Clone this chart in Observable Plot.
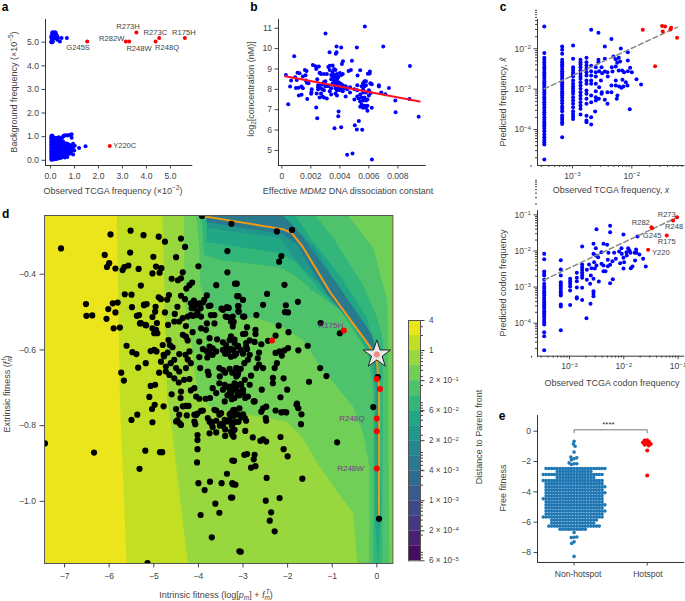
<!DOCTYPE html>
<html><head><meta charset="utf-8">
<script src="https://cdn.jsdelivr.net/npm/d3@7"></script>
<script src="https://cdn.jsdelivr.net/npm/@observablehq/plot@0.6"></script>
<style>
html,body{margin:0;padding:0;background:#fff}
#chart{position:relative;width:685px;height:601px;overflow:hidden;font-family:"Liberation Sans",Arial,sans-serif;color:#444}
#chart svg{position:absolute;overflow:visible}
.lab{position:absolute;white-space:nowrap;font-size:9px;line-height:1;transform:translate(-50%,-50%);color:#444}
.lab.rot{transform:translate(-50%,-50%) rotate(-90deg)}
.lab sup,.lab sub{font-size:6.5px;line-height:0}
.pl{position:absolute;font-weight:bold;font-size:12px;line-height:1;color:#000;transform:translate(-50%,-50%)}
</style></head><body><div id="chart"></div>
<script>
// ---------- shared ----------
const BLUE="#0000ff", RED="#ff0000", INK="#333", MUT="#777";
const bandColor=i=>d3.interpolateViridis((i+.5)/16);
// ---------- panel a ----------
const aHot=[[1.53,5.03],[3.14,5.03],[3.28,5.03],[3.58,5.41],[4.38,5.03],[4.53,5.18],[5.6,5.18],[2.47,.61]];
const aNames=["G245S","Y220C","R273H","R282W","R273C","R175H","R248W","R248Q"];
const aNameX=[1.15,2.61,3.23,2.55,4.37,5.56,3.69,4.86];
const aNameY=[4.76,.61,5.66,5.17,5.41,5.41,4.74,4.77];
const aTopX=[.035,.07,.1,.14,.17,.21,.24,.28,.31,.39,.46,.68];
const aTopY=[[5,5.03,5.18,5.25],[5,5.1,5.25,5.32,5.41],[5.03,5.18,5.32,5.41],[5.18,5.25,5.32,5.41],[5.18,5.32,5.41],[5.18,5.25,5.32,5.41],[5.25,5.32],[5.1,5.25],[5.18],[5.03],[5.18],[5.18]];
const aLowX=[.035,.07,.1,.14,.17,.21,.24,.28,.31,.35,.38,.42,.45,.49,.52,.56,.6,.63,.67,.7,.74,.78,.85,.88,.94,1.01,.99,1.19,1.46];
const aLowY=[[.02,.08,.14,.2,.27,.33,.38,.44,.5,.56,.62,.68,.74,.8,.86,.92,.98,1.03],[.05,.12,.18,.25,.3,.36,.42,.48,.55,.6,.66,.72,.78,.85,.9,.95,1.05],[.03,.1,.16,.22,.3,.38,.45,.52,.58,.65,.73,.8,.88,.95,1],[.06,.15,.24,.32,.4,.48,.56,.64,.72,.8,.9],[.04,.12,.2,.3,.36,.46,.55,.66,.75,.85,.95],[.1,.18,.28,.38,.5,.6,.7,.82],[.05,.16,.3,.42,.52,.68,.78,.9],[.12,.22,.34,.48,.62,.72,.95],[.08,.3,.4,.56,.66,.84,.93],[.2,.44,.58,.7,.8,.98],[.12,.28,.5,.62,.92],[.1,.34,.46,.6,.76],[.2,.3,.52,.65,.85],[.14,.42,.7,.96],[.26,.5,.62,.8,1],[.18,.34,.56,.66,1.05],[.12,.42,.6,.72],[.32,.5,.66,1.06],[.22,.62,.7],[.14,.42,.55,.7,1.05],[.34,.5,.62],[.28,.44,.66,1.07],[.3,.62],[.4,.5,.95,1.1],[.24,.55,.7],[.62],[.41],[.52],[.59]];
// ---------- panel b ----------
const bPts=[[.00572,11.09],[.00301,10.74],[.00377,10.11],[.00409,10.05],[.00699,10.11],[.00517,10.05],[.00329,9.82],[.00372,9.75],[.00377,9.82],[.00085,9.62],[.00483,9.41],[.00421,9.38],[.00414,9.25],[.00883,9.15],[.00214,9.2],[.00232,9.13],[.00255,9.12],[.00476,8.95],[.0046,8.9],[.0054,8.94],[.00237,9],[.00159,8.95],[.0017,8.9],[.00607,8.87],[.00593,8.76],[.00605,8.78],[.00522,8.68],[.00108,8.82],[.00122,8.79],[.00028,8.71],[.00092,8.59],[.00145,8.63],[.00163,8.69],[.00262,8.81],[.00184,8.3],[.00244,8.5],[.00064,8.43],[.00103,8.46],[.00166,8.43],[.00172,8.32],[.00057,8.14],[.00097,8.06],[.00115,8.08],[.00136,8.14],[.00145,8.05],[.00206,8],[.00204,7.87],[.00202,7.78],[.00117,7.7],[.00136,7.73],[.00175,7.53],[.00044,7.27],[.00237,7.11],[.00244,6.58],[.00391,6.91],[.00389,6.68],[.00363,6.09],[.00409,6.14],[.00531,6.45],[.00503,6.24],[.00517,6.03],[.00554,6.01],[.0045,4.79],[.00487,4.85],[.00621,4.56],[.00943,6.65],[.00784,6.88],[.00782,7.45],[.0088,7.52],[.00738,8.06],[.00713,7.76],[.00685,7.84],[.00669,8.2],[.00669,8.14],[.00614,8.27],[.00612,7.82],
[.0031,8.75],[.0032,9.1],[.0033,9.16],[.0033,8.95],[.0034,8.7],[.0034,8.5],[.0035,9.17],[.0035,8.85],[.0035,8.6],[.0035,8.3],[.0036,9],[.0036,8.7],[.0036,8.45],[.0036,8.2],[.0037,8.95],[.0037,8.6],[.0037,8.35],[.0037,8.05],[.0037,7.8],[.0038,8.75],[.0038,8.5],[.0038,8.25],[.0038,7.95],[.0038,7.7],[.0039,8.6],[.0039,8.35],[.0039,8.1],[.004,8.8],[.004,8.3],[.004,7.95],[.0041,8.7],[.0041,8.25],[.0041,8.05],[.0042,8.75],[.0042,8.2],[.0042,7.9],[.0043,8.05],[.0044,8.15],[.0044,7.65],[.0045,8],[.0047,8.1],[.0047,7.85],[.003,8.4],[.003,8.15],[.0029,8.75],[.0029,8.35],[.0029,7.95],[.0029,7.6],[.0028,8.25],[.0028,8],[.0028,7.65],[.0027,8.75],[.0027,8.05],[.0027,7.8],[.0026,8.8],[.0026,8.2],[.0026,7.6],[.0025,8.2],[.0025,8.1],[.0025,8],[.0024,7.8],[.0031,7.55],[.0032,8.15],[.0033,7.9],[.0034,8.05],[.0034,7.75],
[.005,7.5],[.005,8],[.0052,8.2],[.0052,7.65],[.0053,7.55],[.0054,7.75],[.0054,7.4],[.0054,7.15],[.0055,7.6],[.0055,7.25],[.0056,8.3],[.0056,8],[.0056,7.85],[.0056,7.45],[.0056,7.1],[.0057,8.4],[.0057,8.15],[.0057,7.6],[.0057,7.2],[.0058,8.4],[.0058,7.85],[.0058,7.45],[.0058,7.1],[.0059,7.5],[.0059,7.2],[.0059,6.95],[.006,7.95],[.006,7.7],[.0061,8.3],[.0062,8.25],[.0062,7.1],[.0052,7.95],[.0058,8.2],[.0055,8.15]];
const bFit=[[.00023,8.64],[.0095,7.4]];
// ---------- panel c (values are log10 of the frequencies) ----------
const cX=[-3.475,-3.174,-2.99,-2.865,-2.764,-2.685];
const cY=[[-1.446,-2.107,-2.223,-2.273,-2.331,-2.397,-2.455,-2.512,-2.579,-2.636,-2.686,-2.744,-2.802,-2.851,-2.909,-2.967,-3.017,-3.074,-3.132,-3.198,-3.256,-3.322,-3.38,-3.446,-3.512,-3.57,-3.628,-3.694,-3.76,-3.818,-3.876,-3.926,-3.983,-4.041,-4.124,-4.19,-4.256,-4.314,-4.372,-4.744],
[-1.942,-2.025,-2.124,-2.273,-2.331,-2.388,-2.43,-2.496,-2.554,-2.603,-2.661,-2.719,-2.769,-2.826,-2.884,-2.934,-2.992,-3.05,-3.099,-3.157,-3.215,-3.281,-3.347,-3.43,-3.488,-3.545,-3.653,-3.711,-3.76,-3.818,-3.86,-4.19],
[-1.917,-2.248,-2.455,-2.521,-2.579,-2.636,-2.686,-2.785,-2.868,-2.934,-2.992,-3.05,-3.116,-3.198,-3.281,-3.364,-3.446,-3.545,-3.612,-3.678,-3.736],
[-2.273,-2.331,-2.388,-2.455,-2.537,-2.62,-2.686,-2.744,-2.826,-2.909,-2.992,-3.074,-3.157,-3.24,-3.322,-3.405,-3.488,-3.628],
[-2.223,-2.331,-2.413,-2.496,-2.579,-2.661,-2.785,-2.868,-3.033,-3.116,-3.24,-3.364,-3.661,-3.777,-3.818],
[-1.529,-2.422,-2.554,-2.661,-2.785,-2.868,-3.157,-3.322,-3.694,-3.876]];
const cScatter=[[-2.562,-1.603],[-2.343,-1.76],[-2.455,-1.942],[-2.185,-1.992],[-2.309,-2.19],[-2.455,-2.248],[-2.562,-2.273],[-2.22,-2.22],[-2.27,-2.26],[-2.247,-2.347],[-2.337,-2.455],[-2.27,-2.438],[-2.197,-2.314],[-2.067,-2.083],[-2.067,-2.29],[-2.028,-2.47],[-2,-2.58],[-2.067,-2.554],[-2.163,-2.537],[-2.13,-2.579],[-2.22,-2.537],[-2.326,-2.562],[-2.41,-2.579],[-2.455,-2.562],[-2.5,-2.603],[-2.55,-2.554],[-2.607,-2.579],[-2.607,-2.686],[-2.52,-2.785],[-2.405,-2.686],[-2.27,-2.785],[-2.343,-2.909],[-2.27,-2.909],[-2.213,-2.934],[-2.157,-2.769],[-2.14,-2.934],[-2.1,-2.826],[-2.073,-2.909],[-2.174,-2.967],[-1.921,-2.752],[-1.843,-2.884],[-2.034,-3.496],[-2.242,-3.157],[-2.253,-3.24],[-2.343,-3.074],[-2.41,-3.364],[-2.455,-3.264],[-2.51,-3.116],[-2.607,-3.05],[-2.556,-3.24],[-2.607,-3.281],[-2.618,-3.554],[-2.55,-2.95],[-2.607,-3.2],[-2.41,-3.074],[-2.506,-3.074],[-2.607,-2.868],[-2.607,-2.455],[-2.562,-2.331],[-2.51,-2.455]];
const cHot=[[-1.815,-1.529],[-1.489,-1.438],[-1.438,-1.446],[-1.478,-1.57],[-1.337,-1.479],[-1.348,-1.521],[-1.236,-1.727],[-1.607,-2.43]];
const cFit=[[-3.478,-2.992],[-1.23,-1.463]];
// ---------- panel c, lower (log10) ----------
const c2X=[-3.466,-3.16,-2.988,-2.865,-2.767];
const c2Y=[[-2.08,-2.228,-2.57,-2.634,-2.68,-2.8,-2.911,-2.985,-3.05,-3.114,-3.17,-3.234,-3.3,-3.355,-3.42,-3.484,-3.54,-3.6,-3.668,-3.724,-3.79,-3.853,-3.91,-3.973,-4.04,-4.25,-4.36,-4.75],
[-2.256,-2.514,-2.68,-2.865,-2.93,-2.985,-3.05,-3.114,-3.17,-3.234,-3.484,-3.54,-4.195],
[-2.773,-2.837,-2.911,-2.985,-3.096,-3.5],
[-2.607,-2.745,-2.837,-3.013,-3.28,-3.317],
[-1.877,-2.376,-2.45,-2.523,-2.6,-2.67,-2.745,-3.02,-3.355]];
const c2Scatter=[[-2.68,-2.523],[-2.68,-2.8],[-2.64,-2.376],[-2.607,-2.68],[-2.62,-2.911],[-2.613,-3.465],[-2.687,-3.862],[-2.503,-1.397],[-2.558,-1.803],[-2.515,-1.923],[-2.558,-3.114],[-2.558,-3.188],[-2.558,-3.253],[-2.558,-2.773],[-2.46,-2.847],[-2.558,-2.08],[-2.515,-2.126],[-2.472,-2.173],[-2.546,-2.311],[-2.503,-2.404],[-2.595,-2.477],[-2.534,-2.487],[-2.411,-2.034],[-2.374,-1.803],[-2.307,-1.831],[-2.282,-2.053],[-2.252,-1.305],[-2.252,-1.48],[-2.411,-2.357],[-2.374,-2.404],[-2.374,-2.56],[-2.337,-2.56],[-2.294,-2.422],[-2.252,-2.385],[-2.252,-2.893],[-2.202,-2.782],[-2.294,-2.247],[-2.178,-2.053],[-2.209,-2.283],[-2.147,-2.219],[-2.086,-2.016],[-2.037,-2.08],[-2.043,-1.923],[-2.067,-2.339],[-2.006,-1.545],[-2.006,-2.191],[-1.994,-2.311],[-2.006,-2.487],[-1.95,-2.034],[-1.92,-1.923],[-1.896,-1.988],[-1.877,-2.053],[-1.945,-2.126],[-1.871,-2.477],[-1.84,-2.431],[-1.8,-2.053],[-1.773,-1.96],[-1.792,-2.265],[-1.767,-2.053],[-1.748,-1.6],[-1.712,-2.1],[-1.644,-2.219],[-1.595,-2.431]];
const c2Hot=[[-1.552,-1.97],[-1.209,-1.572],[-1.491,-1.342],[-1.479,-1.37],[-1.092,-1.157],[-1.018,-1.065]];
const c2Names=["R273","R282","R248","G245","R175","Y220"];
const c2NameX=[-1.209,-1.687,-1.074,-1.479,-1.209,-1.319];
const c2NameY=[-1,-1.222,-1.314,-1.563,-1.748,-2.053];
const c2Fit=[[-3.466,-2.8],[-1.012,-1.065]];
// ---------- panel d ----------
const dPts=[[-7.08,-.332],[-5.97,-.295],[-5.52,-.285],[-5.23,-.297],[-4.89,-.301],[-4.75,-.314],[-4.39,-.306],[-4.3,-.328],[-6.1,-.349],[-5.53,-.343],[-5.01,-.354],[-4.5,-.355],[-6,-.371],[-6.05,-.381],[-5.86,-.385],[-5.7,-.389],[-5.66,-.381],[-5.57,-.377],[-5.34,-.386],[-4.95,-.38],[-4.83,-.384],[-5.03,-.398],[-4.87,-.396],[-4.35,-.395],[-4,-.379],[-3.35,-.339],[-3.35,-.395],[-4.6,-.412],[-4.46,-.416],[-4.39,-.411],[-4.14,-.422],[-4.2,-.429],[-4.27,-.438],[-5.29,-.43],[-3.6,-.429],[-3.14,-.425],[-5.65,-.453],[-5.5,-.454],[-4.66,-.455],[-4.89,-.461],[-4.84,-.466],[-4.7,-.467],[-4.39,-.457],[-4.3,-.466],[-3.81,-.456],[-3.1,-.458],[-6.52,-.479],[-5.92,-.477],[-5.81,-.475],[-6.02,-.492],[-5.49,-.487],[-5.22,-.482],[-5.16,-.479],[-4.96,-.486],[-4.47,-.486],[-4.75,-.501],[-4.97,-.499],[-6.51,-.51],[-6.38,-.509],[-5.86,-.501],[-6.06,-.518],[-5.33,-.508],[-5.38,-.51],[-5.03,-.513],[-4.53,-.505],[-3.73,-.483],[-3.45,-.494],[-3.32,-.489],[-3.35,-.513],[-3.21,-.526],[-3.64,-.508],[-5.9,-.543],[-5.76,-.541],[-5.29,-.529],[-5.17,-.535],[-4.93,-.529],
[-5.22,-.48],[-5.31,-.53],[-5.19,-.534],[-5.03,-.543],[-4.95,-.547],[-4.99,-.556],[-4.92,-.556],[-4.68,-.534],[-4.54,-.525],[-4.43,-.525],[-4.28,-.537],[-4.35,-.516],[-4.24,-.512],[-4.17,-.508],[-4.05,-.508],[-3.94,-.512],[-4.17,-.477],[-4.09,-.49],[-3.98,-.477],[-3.87,-.468],[-3.77,-.484],[-3.36,-.487],[-3.11,-.484],[-3.1,-.499],[-3.72,-.508],[-3.39,-.512],[-3,-.512],[-3.81,-.53],[-3.64,-.53],[-3.23,-.538],[-4.13,-.553],[-3.94,-.543],[-3.83,-.547],[-4.35,-.56],[-4.28,-.565],[-4.24,-.575],[-3.98,-.578],[-3.75,-.569],[-3.58,-.572],[-3.38,-.587],[-3.3,-.574],[-3.45,-.58],[-4.67,-.574],[-4.64,-.587],[-4.8,-.587],[-5.61,-.589],[-5.48,-.606],[-5.39,-.611],[-5.07,-.603],[-4.99,-.6],[-4.94,-.604],[-4.78,-.613],[-4.69,-.607],[-4.58,-.593],[-4.43,-.611],[-4.29,-.613],[-4.2,-.604],[-4.24,-.625],[-4.17,-.635],[-3.9,-.598],[-3.81,-.604],[-3.68,-.596],[-3.75,-.591],[-3.98,-.619],[-3.68,-.613],[-3.6,-.604],[-3.45,-.6],[-3.34,-.609],[-3.27,-.618],[-3.19,-.582],[-3.11,-.589],[-2.93,-.582],[-2.91,-.598],[-5.18,-.635],[-5.35,-.647],[-5.73,-.66],[-5.67,-.681],[-4.84,-.631],[-4.77,-.617],[-4.62,-.635],[-4.54,-.626],[-4.73,-.644],[-4.88,-.66],[-4.73,-.657],[-4.65,-.666],[-4.5,-.648],[-4.43,-.657],[-4.28,-.648],[-4.54,-.675],[-4.44,-.686],[-4.32,-.679],[-4.2,-.677],[-3.96,-.648],[-3.79,-.657],[-3.77,-.666],[-3.53,-.648],[-3.45,-.653],[-3.15,-.648],[-3.11,-.661],[-3.15,-.67],[-5.07,-.695],[-4.97,-.692],[-5.1,-.724],[-4.6,-.717],[-4.39,-.71],[-4.4,-.727],[-4.09,-.701],[-4.17,-.707],[-4.05,-.723],[-3.98,-.729],[-3.84,-.729],[-3.74,-.727],[-3.6,-.714],[-3.68,-.701],[-3.53,-.688],[-3.41,-.692],[-3.3,-.697],[-3.45,-.705],[-3.3,-.714],[-3.19,-.688],[-3.08,-.692],[-3,-.705],[-2.96,-.679],[-2.89,-.723],[-3.41,-.736],[-3.19,-.727],[-4.98,-.745],[-5.04,-.756],[-4.78,-.749],[-4.5,-.756],[-4.35,-.749],[-4.22,-.748],[-3.94,-.761],[-3.64,-.758],[-5.37,-.771],[-5.5,-.785],[-5.03,-.791],[-4.43,-.771],[-4.47,-.786],[-4.39,-.798],[-4.09,-.771],[-4.09,-.789],[-3.79,-.78],[-3.72,-.789],[-3.53,-.771],[-3.41,-.785],[-3.3,-.785],[-3.15,-.789],[-2.96,-.78],
[-7.44,-.847],[-6.34,-.871],[-5.19,-.866],[-5.32,-.914],[-4.86,-.87],[-4.81,-.87],[-5.14,-1.163],[-4,-.952],[-3.74,-.948],[-3.48,-.952],[-3.86,-.97],[-3.24,-.952],[-3.17,-.956],[-3.36,-.927],[-3.2,-.893],[-3.24,-.99],[-3.62,-1.006],[-3.53,-1.03],[-3.95,-1.036],[-3.7,-1.095],[-3.05,-1.133],[-4.02,-.825],[-4.02,-.838],[-4.02,-.862],[-4.03,-.897],[-4.28,-.748],[-4.5,-.789],[-4.42,-.794],[-4.26,-.773],[-4.05,-.772],[-4.02,-.768],[-3.9,-.76],[-3.6,-.76],[-3.49,-.767],[-4.07,-.796],[-3.75,-.82],[-3.75,-.79],[-3.7,-.796],[-3.6,-.787],[-3.68,-.804],[-3.6,-.818],[-3.49,-.796],[-3.4,-.81],[-3.4,-.827],[-3.35,-.789],[-3.2,-.792],[-3.22,-.759],[-3.27,-.816],[-3.19,-.811],[-3.24,-.825],[-3.1,-.79],
[-.08,-.751],[-.89,-.844],[-3.08,-1.132],[-2.29,-1.079],[-2.4,-1.051],[-2.37,-1.029],[-2.18,-.991],[-2.49,-.998],[-3.27,-.99],[-1.67,-.94],[-2.47,-.938],[-3.23,-.955],[-2.82,-.911],[-2.72,-.907],[-2.97,-.877],[-2.91,-.875],[-2.74,-.877],[-2.76,-.889],[-3.24,-.892],[-2.09,-.862],[-2,-.881],[-2.95,-.814],[-2.78,-.831],[-2.61,-.84],[-2.55,-.836],[-2.48,-.842],[-2.16,-.83],[-3.23,-.816],[-3.21,-.829],[-1.7,-.796],[-2.49,-.78],[-2.48,-.787],[-3.04,-.778],[-2.93,-.787],[-3.15,-.77],[-1.69,-.77],[-1.76,-.754],[-1.8,-.745],[-2.03,-.765],[-2.14,-.765],[-2.08,-.764],[-2.27,-.76],[-2.59,-.763],[-2.55,-.754],[-2.48,-.75],[-3.08,-.754],[-3.19,-.758],[-3.27,-.767],[-2.74,-.736],
[-1.9,-.283],[-2.24,-.287],[-3.26,-.267],[-3.92,-.246],[-2.14,-.352],[-2.19,-.367],[-3.18,-.425],[-2.07,-.428],[-2.46,-.452],[-3.13,-.458],[-3,-.468],[-1.77,-.473],[-2.55,-.481],[-3.1,-.484],[-3.1,-.497],[-2.04,-.482],[-2.06,-.5],[-1.99,-.501],[-2.7,-.508],[-2.97,-.512],[-3.23,-.512],[-3.27,-.525],[-1.26,-.529],[-2.2,-.536],[-2.91,-.54],[-2.72,-.547],[-2.72,-.558],[-3,-.558],[-2.95,-.557],[-1.98,-.553],[-2.27,-.562],[-.83,-.556],[-2.85,-.575],[-2.74,-.579],[-2.59,-.585],[-2.44,-.576],[-3.27,-.564],[-3.19,-.573],[-2.93,-.591],[-3.12,-.591],[-3.27,-.597],[-3.19,-.615],[-1.55,-.589],[-1.76,-.601],[-1.99,-.595],[-2.07,-.601],[-2.18,-.604],[-2.27,-.608],[-2.13,-.615],[-2.64,-.607],[-2.67,-.622],[-2.85,-.613],[-2.24,-.635],[-2.29,-.648],[-2.7,-.648],[-2.55,-.648],[-2.64,-.639],[-2.97,-.635],[-2.89,-.626],[-3.15,-.648],[-3.12,-.666],[-1.27,-.648],[-1.13,-.669],[-2.82,-.668],[-2.33,-.674],[-2.33,-.688],[-2.09,-.675],[-1.52,-.684],[-2.85,-.692],[-2.58,-.705],[-2.01,-.705],[-3.04,-.692],[-3.15,-.701],[-3,-.714],[-3.27,-.714],[-3.12,-.718],[-2.16,-.725],[-2.95,-.727],[-2.76,-.736],[-1.79,-.742],[-3.48,-.491],[-3.35,-.489],[.02,-.672],[.05,-1.046],
[-4.15,-.49],[-4.1,-.47],[-4.05,-.48],[-4.02,-.5],[-4.12,-.51],[-3.95,-.49],[-3.9,-.475],[-3.32,-.7],[-3.25,-.71],[-3.2,-.7],[-3.12,-.71],[-3.35,-.72],[-3.05,-.69],[-3.08,-.72],[-3.25,-.73],[-3.35,-.6],[-3.28,-.6],[-3.22,-.6],[-3.4,-.61],[-3.15,-.61],[-3.05,-.6],[-3,-.61],[-3.8,-.62],[-3.75,-.61],[-3.3,-.65],[-3.24,-.66],[-3.05,-.65],[-3.4,-.66],[-3.52,-.67],[-3.3,-.77],[-3.22,-.775],[-3.12,-.77],[-3,-.77],[-3.45,-.8],[-3.52,-.8],[-3.25,-.8]];
const dHot=[[-.74,-.549],[-2.35,-.575],[0,-.677],[.07,-.703],[0,-.781],[0,-.815],[0,-.913]];
const dNames=["R175H","R248Q","R248W"];
const dNameX=[-1.03,-.56,-.59];
const dNameY=[-.536,-.781,-.913];
const dStar=[[0,-.612]];
const dFront=[[-3.83,-.248],[-2.11,-.281],[-1.91,-.291],[-1.66,-.328],[-1.05,-.447],[-.31,-.566],[-.11,-.6],[0,-.62],[.01,-.64],[.05,-.7],[.05,-1.035]];
// contour regions: each level is drawn over the one before it
const contourLevels=[14,13,12,11,10,9,8,6];
const contour14=[[-5.83,-.245],[-5.76,-.732],[-5.61,-1.165],[.36,-1.165],[.36,-.245]];
const contour13=[[-4.81,-.245],[-4.7,-.732],[-4.59,-.811],[-4.41,-.996],[-4.23,-1.165],[.36,-1.165],[.36,-.245]];
const contour12=[[-4.32,-.245],[-4.32,-.468],[-4.2,-.547],[-4.14,-.6],[-4.02,-.713],[-3.75,-.75],[-3.24,-.766],[-2.56,-.777],[-2.02,-.79],[-1.68,-.83],[-1.34,-.898],[-.76,-.996],[-.53,-1.03],[-.44,-1.165],[.36,-1.165],[.36,-.245]];
const contour11=[[-4.05,-.244],[-3.98,-.323],[-3.96,-.428],[-3.82,-.481],[-3.48,-.5],[-3.08,-.516],[-2.7,-.516],[-2.11,-.539],[-1.66,-.574],[-1.21,-.653],[-.53,-.75],[-.31,-.819],[-.17,-.909],[-.17,-1.165],[.28,-1.165],[.25,-.547],[.23,-.468],[-.08,-.331],[-.65,-.244]];
const contour10=[[-3.93,-.244],[-3.87,-.349],[-3.48,-.363],[-2.18,-.381],[-1.82,-.405],[-1.46,-.442],[-.83,-.494],[-.2,-.608],[-.08,-.706],[-.08,-1.165],[.12,-1.165],[.14,-.706],[.14,-.574],[.01,-.516],[-.31,-.428],[-.98,-.304],[-1.39,-.244]];
const contour9=[[-3.82,-.244],[-3.82,-.315],[-2.18,-.344],[-1.82,-.368],[-1.28,-.442],[-.6,-.521],[-.11,-.626],[-.04,-.706],[-.04,-1.056],[.03,-1.165],[.1,-.996],[.01,-.658],[-.08,-.587],[-.22,-.516],[-.83,-.402],[-1.5,-.304],[-1.84,-.244]];
const contour8=[[-3.82,-.244],[-3.8,-.278],[-2.18,-.304],[-1.73,-.376],[-1.12,-.442],[-.44,-.529],[-.11,-.592],[-.02,-.671],[.01,-.917],[.07,-.917],[.07,-.671],[-.08,-.592],[-.22,-.539],[-.83,-.442],[-1.34,-.336],[-2.11,-.244]];
const contour6=[[-3.82,-.244],[-3.82,-.262],[-2.13,-.294],[-1.8,-.32],[-1.16,-.447],[-.42,-.547],[-.15,-.587],[-.02,-.626],[.05,-.626],[-.11,-.56],[-.83,-.436],[-1.61,-.31],[-1.95,-.262],[-2.13,-.244]];
const contours=[contour14,contour13,contour12,contour11,contour10,contour9,contour8,contour6];
// ---------- colour bar ----------
const barLevels=[4,2,1,.5,.25,.125,.0625,.03125,.015625,.0078125,.00390625,.001953125,.0009765625,.00048828125,.000244140625,.0001220703125,.00006103515625];
const barTicks=[4,1,.25,.0625,.015625,.00390625,.0009765625,.000244140625,.00006103515625];
const barLabels=["4","1","2 × 10^−1","6 × 10^−2","2 × 10^−2","4 × 10^−3","1 × 10^−3","2 × 10^−4","6 × 10^−5"];
const barMinor=[3,2,.9,.8,.7,.6,.5,.4,.3,.2,.09,.08,.07,.06,.05,.04,.03,.02,.009,.008,.007,.006,.005,.004,.003,.002,.0009,.0008,.0007,.0006,.0005,.0004,.0003,.0002,.00009,.00008,.00007];
// ---------- panel e ----------
const eRowValue=[-2.46,-2.66,-2.86,-3.06,-3.26,-3.46,-3.66,-3.86,-4.06,-4.26,-4.46,-4.66,-4.86,-5.06,-5.26,-5.46,-5.66,-5.86,-6.06,-6.26,-6.46];
const eRowCount=[22,13,22,14,22,21,22,21,22,21,22,21,22,21,22,21,22,17,16,19,10];
const eSingles=[-.66,-.84,-.99,-1.38,-1.82,-1.89,-1.76,-1.71,-2.15,-2.2,-2.15,-2.09,-6.68,-7,-7.02,-6.98,-7.3,-7.4,-8.26];
const eHot=[-.6,-.62,-.72,-.75,-.82,-.85,-.9,-.95,-1.28,-2.92];
const eNames=["Non-hotspot","Hotspot"];
const eNameX=[.055,1.01];
const eBracket=[[0,-.1],[0,.09],[1,.09],[1,-.1]];

// ---------- helpers ----------
const chart=document.getElementById("chart");
function panel(L,T,R,B,opt,marks,box={}){
  const ml=box.l??40, mr=box.r??4, mt=box.t??4, mb=box.b??22;
  const p=Plot.plot({width:R-L+ml+mr,height:B-T+mt+mb,marginLeft:ml,marginRight:mr,marginTop:mt,marginBottom:mb,
    style:{background:"transparent",fontFamily:"'Liberation Sans',Arial,sans-serif",fontSize:"8.6px",color:"#444",overflow:"visible"},
    ...opt,marks});
  p.style.left=(L-ml)+"px"; p.style.top=(T-mt)+"px";
  // exponent labels "10^-3" become real superscripts
  p.querySelectorAll("text").forEach(t=>{
    const m=t.textContent.match(/^(.*)\^(.+)$/);
    if(!m)return;
    t.textContent=m[1];
    const s=document.createElementNS("http://www.w3.org/2000/svg","tspan");
    s.setAttribute("dy","-0.4em"); s.setAttribute("font-size","0.72em"); s.textContent=m[2]; t.appendChild(s);
  });
  chart.appendChild(p); return p;
}
function label(html,x,y,rot,cls){const d=document.createElement("div");d.className=(cls||"lab")+(rot?" rot":"");d.innerHTML=html;d.style.left=x+"px";d.style.top=y+"px";chart.appendChild(d);}
const axisLines=[Plot.frame({anchor:"left",stroke:INK}),Plot.frame({anchor:"bottom",stroke:INK})];
const minorTicks=(lo,hi)=>d3.range(lo,hi+1).flatMap(e=>[2,3,4,5,6,7,8,9].map(k=>k*10**e));
const expFmt=d=>"10^−"+Math.round(-Math.log10(d));
const P=a=>a.map(([x,y])=>({x,y}));
const L10=a=>a.map(([x,y])=>({x:10**x,y:10**y}));

// ---------- a ----------
const aBlue=[...aTopX.flatMap((x,i)=>aTopY[i].map(y=>({x,y}))),...aLowX.flatMap((x,i)=>aLowY[i].map(y=>({x,y})))];
panel(44.7,19,191,165,{x:{domain:[-.21,5.89]},y:{domain:[-.22,5.96]}},[
  ...axisLines,
  Plot.axisX({ticks:[0,1,2,3,4,5],tickSize:3.5,tickPadding:3.5,label:null}),
  Plot.axisY({ticks:[0,1,2,3,4,5],tickSize:3.5,tickPadding:3,label:null}),
  Plot.dot(aBlue,{x:"x",y:"y",r:2,fill:BLUE}),
  Plot.dot(P(aHot),{x:"x",y:"y",r:2,fill:RED}),
  Plot.text(aNames,{x:(d,i)=>aNameX[i],y:(d,i)=>aNameY[i],text:d=>d,textAnchor:"middle",fontSize:7.6,fill:"#444",filter:d=>d!=="Y220C"}),
  Plot.text(["Y220C"],{x:aNameX[1],y:aNameY[1],text:d=>d,textAnchor:"start",fontSize:7.6,fill:"#444"})
]);
label("Observed TCGA frequency (×10<sup>−2</sup>)",113,191);
label("Background frequency (×10<sup>−5</sup>)",14,92,true);

// ---------- b ----------
panel(278.3,19,425,165,{x:{domain:[-.00023,.00988]},y:{domain:[4.26,11.43]}},[
  ...axisLines,
  Plot.axisX({ticks:[0,.002,.004,.006,.008],tickFormat:d=>d===0?"0":d3.format(".3f")(d),tickSize:3.5,tickPadding:3.5,label:null}),
  Plot.axisY({ticks:[5,6,7,8,9,10,11],tickSize:3.5,tickPadding:3,label:null}),
  Plot.dot(P(bPts),{x:"x",y:"y",r:2,fill:BLUE}),
  Plot.line(P(bFit),{x:"x",y:"y",stroke:"#ff1020",strokeWidth:2})
]);
label("Effective <i>MDM2</i> DNA dissociation constant",348,190.7);
label("log<sub>2</sub>[concentration (nM)]",251,89,true);

// ---------- c upper ----------
const cBlue=[...cX.flatMap((x,i)=>cY[i].map(y=>[x,y])),...cScatter];
panel(536.7,19,683,165,{x:{type:"log",domain:[10**-3.59,10**-1.123]},y:{type:"log",domain:[10**-4.89,10**-1.275]}},[
  ...axisLines,
  Plot.axisX({ticks:minorTicks(-4,-2),tickFormat:()=>"",tickSize:2,label:null}),
  Plot.axisX({ticks:[1e-3,1e-2],tickFormat:expFmt,tickSize:3.5,tickPadding:3.5,label:null}),
  Plot.axisY({ticks:minorTicks(-5,-2),tickFormat:()=>"",tickSize:2,label:null}),
  Plot.axisY({ticks:[1e-4,1e-3,1e-2],tickFormat:expFmt,tickSize:3.5,tickPadding:3,label:null}),
  Plot.dot(L10(cBlue),{x:"x",y:"y",r:2,fill:BLUE}),
  Plot.line(L10(cFit),{x:"x",y:"y",stroke:"#888",strokeWidth:1.5,strokeDasharray:"5,3"}),
  Plot.dot(L10(cHot),{x:"x",y:"y",r:2,fill:RED})
],{r:2});
label("Observed TCGA frequency, <i>x</i>",611,190);
label("Predicted frequency, <i>x̂</i>",503,102,true);

// ---------- c lower ----------
const c2Blue=[...c2X.flatMap((x,i)=>c2Y[i].map(y=>[x,y])),...c2Scatter];
panel(536.7,210,683,355.7,{x:{type:"log",domain:[10**-3.589,10**-.895]},y:{type:"log",domain:[10**-4.914,10**-.88]}},[
  ...axisLines,
  Plot.axisX({ticks:minorTicks(-4,-1),tickFormat:()=>"",tickSize:2,label:null}),
  Plot.axisX({ticks:[1e-3,1e-2,1e-1],tickFormat:expFmt,tickSize:3.5,tickPadding:3.5,label:null}),
  Plot.axisY({ticks:minorTicks(-5,-1),tickFormat:()=>"",tickSize:2,label:null}),
  Plot.axisY({ticks:[1e-4,1e-3,1e-2,1e-1],tickFormat:expFmt,tickSize:3.5,tickPadding:3,label:null}),
  Plot.dot(L10(c2Blue),{x:"x",y:"y",r:2,fill:BLUE}),
  Plot.line(L10(c2Fit),{x:"x",y:"y",stroke:"#888",strokeWidth:1.5,strokeDasharray:"5,3"}),
  Plot.dot(L10(c2Hot),{x:"x",y:"y",r:2,fill:RED}),
  Plot.text(c2Names,{x:(d,i)=>10**c2NameX[i],y:(d,i)=>10**c2NameY[i],text:d=>d,textAnchor:"middle",fontSize:7.6,fill:"#444"})
],{r:2});
label("Observed TCGA codon frequency",612,383);
label("Predicted codon frequency",503,283,true);

// ---------- d ----------
panel(44.3,215.3,392.7,563.3,{x:{domain:[-7.45,.36]},y:{domain:[-1.164,-.245]}},[
  Plot.frame({fill:bandColor(15)}),
  ...contours.map((c,i)=>Plot.line(P(c),{x:"x",y:"y",fill:bandColor(contourLevels[i]),stroke:"none",clip:true})),
  Plot.line(P(dFront),{x:"x",y:"y",stroke:"#f39a12",strokeWidth:2,clip:true}),
  Plot.dot(P(dPts),{x:"x",y:"y",r:3.1,fill:"#000",clip:true}),
  Plot.dot(P(dHot),{x:"x",y:"y",r:3,fill:RED}),
  Plot.dot(P(dStar),{x:"x",y:"y",symbol:"star",r:8.7,fill:"#e9e9e9",stroke:"#222",strokeWidth:1}),
  Plot.dot(P(dStar),{x:"x",y:"y",r:3,fill:"#f08a8a"}),
  Plot.text(dNames,{x:(d,i)=>dNameX[i],y:(d,i)=>dNameY[i],text:d=>d,textAnchor:"middle",fontSize:8,fill:"#7a3b8f"}),
  Plot.frame({stroke:"#555",strokeWidth:1}),
  Plot.axisX({ticks:[-7,-6,-5,-4,-3,-2,-1,0],tickFormat:d3.format("d"),tickSize:4.5,tickPadding:4.5,label:null}),
  Plot.axisY({ticks:[-.4,-.6,-.8,-1],tickFormat:d3.format(".1f"),tickSize:4.5,tickPadding:4,label:null})
]);
label("Intrinsic fitness (log[<i>p</i><sub><i>m</i></sub>] + <i>f</i><sub><i>m</i></sub><sup style='margin-left:-4px'><i>T</i></sup>)",216,595);
label("Extrinsic fitness (<i>f</i><sub><i>m</i></sub><sup style='margin-left:-4px'><i>I</i></sup>)",7,394,true);

// ---------- colour bar ----------
panel(407.7,320,419.7,560.3,{x:{axis:null,domain:[0,1]},y:{type:"log",base:4,domain:[barLevels[16],barLevels[0]]}},[
  Plot.rect(d3.range(16),{x1:0,x2:1,y1:i=>barLevels[i+1],y2:i=>barLevels[i],fill:i=>bandColor(15-i)}),
  Plot.frame({stroke:"#555"}),
  Plot.axisY({anchor:"right",ticks:barMinor,tickFormat:()=>"",tickSize:2,label:null}),
  Plot.axisY({anchor:"right",ticks:barTicks,tickFormat:d=>barLabels[barTicks.indexOf(d)],tickSize:3.5,tickPadding:5,label:null,fontSize:8.2})
],{l:2,r:64,b:4,t:4});
label("Distance to Pareto front",479,437,true);

// ---------- e ----------
const eBlue=[...eSingles,...eRowValue.flatMap((v,i)=>Array(eRowCount[i]).fill(v))];
const eFrame=683-536.7;
panel(536.7,415,683,562,{x:{domain:[-.5,1.5]},y:{domain:[-8.66,1.035]}},[
  ...axisLines,
  Plot.axisX({ticks:[0,1],tickFormat:()=>"",tickSize:3.5,label:null}),
  Plot.axisX({ticks:eNameX,tickFormat:d=>eNames[eNameX.indexOf(d)],tickSize:0,tickPadding:8,label:null}),
  Plot.axisY({ticks:[0,-2,-4,-6,-8],tickFormat:d3.format("d"),tickSize:3.5,tickPadding:3,label:null}),
  Plot.dot(eBlue,Plot.dodgeX({anchor:"middle",y:d=>d,r:1.8,padding:-.8,fill:"#1f77b4",dx:-eFrame/4})),
  Plot.dot(eHot,Plot.dodgeX({anchor:"middle",y:d=>d,r:2,padding:-1.4,fill:RED,dx:eFrame/4})),
  Plot.line(P(eBracket),{x:"x",y:"y",stroke:"#777",strokeWidth:1}),
  Plot.text(["****"],{x:.47,y:.42,text:d=>d,textAnchor:"middle",fontSize:8,fill:"#333"})
],{r:2,b:22});
label("Free fitness",503,488,true);

// ---------- panel letters ----------
[["a",5,7],["b",254,7],["c",503,7],["d",5.6,214],["e",502,416]].forEach(([s,x,y])=>label(s,x,y,false,"pl"));
</script></body></html>
